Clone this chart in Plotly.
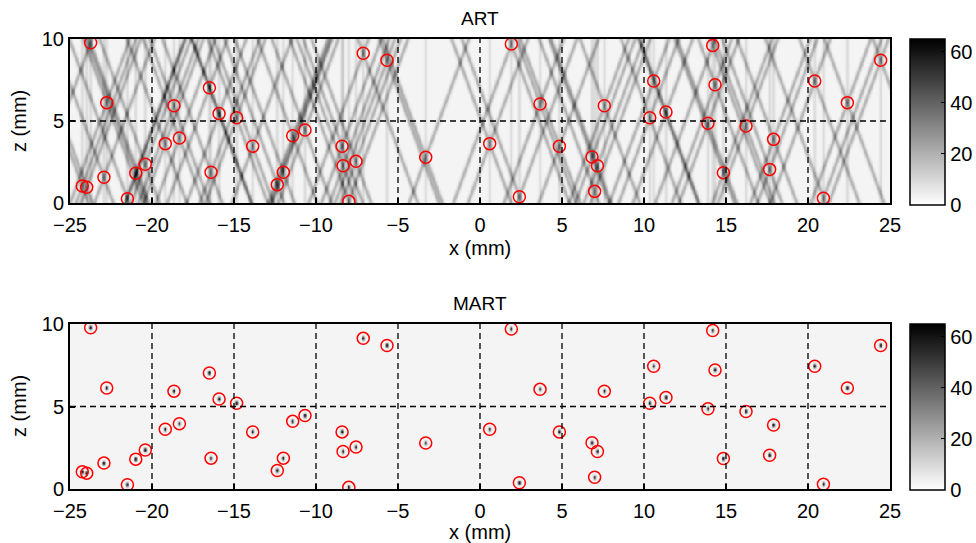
import numpy as np
import plotly.graph_objects as go

# ---------------- data ----------------
scat_x = [-23.74, -22.76, -16.50, -18.66, -15.91, -14.84, -19.19, -18.33, -13.86, -11.42,
          -10.67, -24.25, -23.98, -22.93, -20.99, -20.41, -21.50, -16.40, -12.36, -11.99,
          -8.41, -8.35, -7.56, -8.00, -7.12, -5.67, 1.91, 3.66, 7.58, -3.31,
          0.59, 4.84, 6.83, 7.16, 2.40, 6.99, 14.19, 10.59, 14.33, 11.34,
          10.35, 13.90, 16.22, 17.90, 17.66, 14.84, 20.41, 22.40, 24.43, 20.94]
scat_z = [9.77, 6.12, 7.03, 5.93, 5.45, 5.20, 3.62, 3.96, 3.46, 4.10,
          4.45, 1.04, 0.96, 1.57, 1.81, 2.36, 0.26, 1.87, 1.12, 1.87,
          3.46, 2.27, 2.54, 0.10, 9.13, 8.70, 9.70, 6.04, 5.93, 2.79,
          3.62, 3.46, 2.80, 2.27, 0.38, 0.71, 9.61, 7.44, 7.21, 5.55,
          5.20, 4.86, 4.70, 3.88, 2.05, 1.85, 7.44, 6.12, 8.70, 0.29]

x_ticks = [-25, -20, -15, -10, -5, 0, 5, 10, 15, 20, 25]
z_ticks = [0, 5, 10]
grid_x = [-20, -15, -10, -5, 0, 5, 10, 15, 20]
grid_z = [5]
cbar_ticks = [0, 20, 40, 60]
art_angles_deg = [-20, 0, 20]
art_line_amp = [16, 6, 16]
background_level = 2.8
mart_peak = 55
color_max = 65

# ---------------- reconstruction images (modelled from the scatterers) ----------------
xg = np.round(np.arange(-25, 25.0001, 0.05), 3)
zg = np.round(np.arange(0, 10.0001, 0.05), 3)
X, Z = np.meshgrid(xg, zg)

art = np.full(X.shape, background_level)
for x0, z0 in zip(scat_x, scat_z):
    for ang, amp in zip(art_angles_deg, art_line_amp):
        t = np.tan(np.radians(ang))
        d = ((X - x0) - (Z - z0) * t) * np.cos(np.radians(ang))
        sig = 0.085 if ang != 0 else 0.07
        art += amp * np.exp(-d ** 2 / (2 * sig ** 2))
art = np.round(np.clip(art, 0, color_max), 1)

mart = np.full(X.shape, background_level)
for x0, z0 in zip(scat_x, scat_z):
    mart += mart_peak * np.exp(-((X - x0) ** 2) / (2 * 0.06 ** 2) - ((Z - z0) ** 2) / (2 * 0.09 ** 2))
mart = np.round(np.clip(mart, 0, color_max), 1)

# ---------------- figure ----------------
W, H = 976, 543
ml, mr, mt, mb = 70, 86, 39, 54
pw, ph = W - ml - mr, H - mt - mb
FONT = "Liberation Sans, Arial, Helvetica, sans-serif"
FS = 20
gscale = [[0, "white"], [1, "black"]]


def py(px):
    return 1 - (px - mt) / ph


def pxx(px):
    return (px - ml) / pw


def cbar(top_px, len_px):
    return dict(thickness=35, thicknessmode="pixels", len=len_px, lenmode="pixels",
                x=pxx(910), xref="paper", xanchor="left",
                y=py(top_px), yref="paper", yanchor="top",
                xpad=0, ypad=0, outlinewidth=1.5, outlinecolor="black",
                tickvals=cbar_ticks, ticks="inside", ticklen=4, tickcolor="black",
                tickfont=dict(size=FS, color="black", family=FONT))


fig = go.Figure()
fig.add_trace(go.Heatmap(x=xg, z=art, y=zg, colorscale=gscale, zmin=0, zmax=color_max,
                         colorbar=cbar(39, 166), xaxis="x", yaxis="y", hoverinfo="skip"))
fig.add_trace(go.Heatmap(x=xg, z=mart, y=zg, colorscale=gscale, zmin=0, zmax=color_max,
                         colorbar=cbar(324, 166), xaxis="x2", yaxis="y2", hoverinfo="skip"))
for xa, ya in [("x", "y"), ("x2", "y2")]:
    fig.add_trace(go.Scatter(x=scat_x, y=scat_z, mode="markers", xaxis=xa, yaxis=ya,
                             marker=dict(symbol="circle-open", size=12, color="red",
                                         line=dict(width=1.5, color="red")),
                             showlegend=False, hoverinfo="skip"))

top_dom = [py(203), 1]
bot_dom = [0, py(324)]

axis_common = dict(showline=True, mirror=True, linecolor="black", linewidth=2,
                   ticks="inside", ticklen=5, tickwidth=1.5, tickcolor="black",
                   showgrid=False, zeroline=False,
                   tickfont=dict(size=FS, color="black", family=FONT))
fig.update_layout(
    width=W, height=H,
    margin=dict(l=ml, r=mr, t=mt, b=mb, autoexpand=False),
    paper_bgcolor="white", plot_bgcolor="white",
    font=dict(family=FONT, size=FS, color="black"),
    showlegend=False,
    xaxis=dict(domain=[0, 1], range=[-25, 25], tickvals=x_ticks, anchor="y",
               ticklabelstandoff=3, **axis_common),
    yaxis=dict(domain=top_dom, range=[0, 10], tickvals=z_ticks, anchor="x", **axis_common),
    xaxis2=dict(domain=[0, 1], range=[-25, 25], tickvals=x_ticks, anchor="y2",
                ticklabelstandoff=3, **axis_common),
    yaxis2=dict(domain=bot_dom, range=[0, 10], tickvals=z_ticks, anchor="x2", **axis_common),
)

shapes = []
for xr, yr in [("x", "y"), ("x2", "y2")]:
    for gx in grid_x:
        shapes.append(dict(type="line", xref=xr, yref=yr, x0=gx, x1=gx, y0=0, y1=10,
                           line=dict(color="black", width=1.3, dash="6px,4px"), layer="above"))
    for gz in grid_z:
        shapes.append(dict(type="line", xref=xr, yref=yr, x0=-25, x1=25, y0=gz, y1=gz,
                           line=dict(color="black", width=1.3, dash="6px,4px"), layer="above"))
fig.update_layout(shapes=shapes)

ann = [
    dict(text="ART", x=0.5, y=py(18), xref="paper", yref="paper", showarrow=False,
         xanchor="center", yanchor="middle", font=dict(size=19)),
    dict(text="MART", x=0.5, y=py(303), xref="paper", yref="paper", showarrow=False,
         xanchor="center", yanchor="middle", font=dict(size=19)),
    dict(text="x (mm)", x=0.5, y=py(248), xref="paper", yref="paper", showarrow=False,
         xanchor="center", yanchor="middle", font=dict(size=FS)),
    dict(text="x (mm)", x=0.5, y=py(532), xref="paper", yref="paper", showarrow=False,
         xanchor="center", yanchor="middle", font=dict(size=FS)),
    dict(text="z (mm)", x=pxx(19), y=py(121), xref="paper", yref="paper", showarrow=False,
         xanchor="center", yanchor="middle", textangle=-90, font=dict(size=FS)),
    dict(text="z (mm)", x=pxx(19), y=py(406), xref="paper", yref="paper", showarrow=False,
         xanchor="center", yanchor="middle", textangle=-90, font=dict(size=FS)),
]
fig.update_layout(annotations=ann)

fig.write_html("out.html", config={"displayModeBar": False},
               post_script="document.body.style.margin='0';document.body.style.overflow='hidden';")
